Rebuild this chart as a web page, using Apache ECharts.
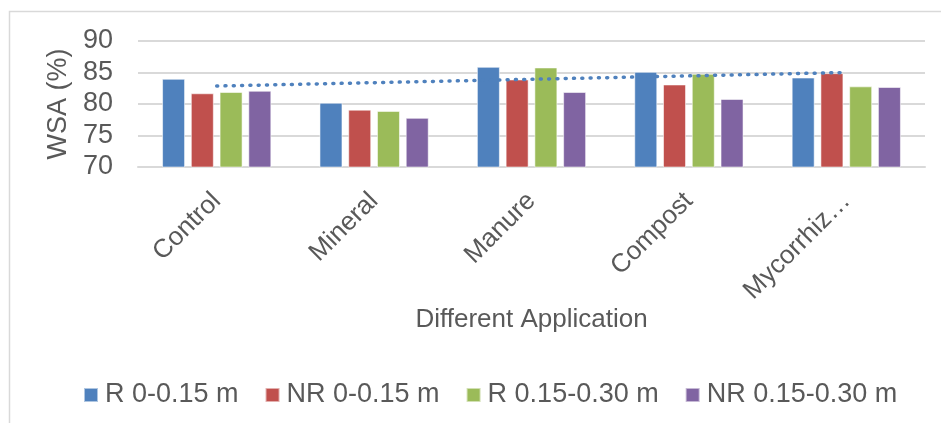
<!DOCTYPE html>
<html>
<head>
<meta charset="utf-8">
<script src="https://cdn.jsdelivr.net/npm/echarts@6/dist/echarts.min.js"></script>
<style>
html,body{margin:0;padding:0;background:#fff;}
#c{width:941px;height:423px;}
</style>
</head>
<body>
<div id="c"></div>
<script>
const categories = ['Control', 'Mineral', 'Manure', 'Compost', 'Mycorrhiz…'];
const seriesNames = ['R 0-0.15 m', 'NR 0-0.15 m', 'R 0.15-0.30 m', 'NR 0.15-0.30 m'];
const r015 = [84.0, 80.2, 85.9, 85.1, 84.2];
const nr015 = [81.7, 79.1, 83.9, 83.1, 84.9];
const r1530 = [81.9, 78.9, 85.8, 84.8, 82.8];
const nr1530 = [82.1, 77.8, 81.9, 80.8, 82.7];
const trendR015 = [82.85, null, null, null, 85.0];
const yTicks = { min: 70, max: 90, interval: 5 };
const colors = ['#4F81BD', '#C0504D', '#9BBB59', '#8064A2'];

const FONT = '"Liberation Sans", Arial, sans-serif';
const TXT = '#595959';
const chart = echarts.init(document.getElementById('c'), null, { renderer: 'canvas' });
const valueSets = [r015, nr015, r1530, nr1530];
const barSeries = valueSets.map((vals, i) => ({
  name: seriesNames[i],
  type: 'bar',
  data: vals,
  barWidth: 23,
  barGap: '25%',
  itemStyle: { color: colors[i], borderColor: 'rgba(255,255,255,0.55)', borderWidth: 1 }
}));
chart.setOption({
  backgroundColor: '#fff',
  animation: false,
  graphic: [{
    type: 'rect', shape: { x: 9.5, y: 11.5, width: 1000, height: 500 },
    style: { fill: 'none', stroke: '#D9D9D9', lineWidth: 1.5 }, silent: true, z: -1
  }],
  grid: { left: 138, right: 16, top: 41, bottom: 256, containLabel: false },
  legend: {
    data: seriesNames,
    left: 78, top: 376,
    itemWidth: 14, itemHeight: 14, itemGap: 26,
    icon: 'rect',
    textStyle: { fontFamily: FONT, fontSize: 27, color: TXT, lineHeight: 28, padding: [0, 0, 0, 2] }
  },
  xAxis: {
    type: 'category',
    data: categories,
    name: 'Different Application',
    nameLocation: 'middle',
    nameGap: 139,
    nameTextStyle: { fontFamily: FONT, fontSize: 26, color: TXT },
    axisLine: { lineStyle: { color: '#D9D9D9', width: 2 } },
    axisTick: { show: false },
    axisLabel: { rotate: 45, margin: 30, fontFamily: FONT, fontSize: 26, color: TXT, interval: 0 }
  },
  yAxis: {
    type: 'value',
    min: yTicks.min, max: yTicks.max, interval: yTicks.interval,
    name: 'WSA (%)',
    nameLocation: 'middle',
    nameGap: 57,
    nameTextStyle: { fontFamily: FONT, fontSize: 27, color: TXT },
    axisLine: { show: false },
    axisTick: { show: false },
    axisLabel: { margin: 25, fontFamily: FONT, fontSize: 27, color: TXT },
    splitLine: { lineStyle: { color: '#D9D9D9', width: 2 } }
  },
  series: barSeries.concat([{
    name: 'trend',
    type: 'line',
    data: trendR015,
    connectNulls: true,
    symbol: 'none',
    z: 5,
    lineStyle: { color: '#4F81BD', width: 3.5, type: [1, 7.3], cap: 'round' }
  }])
});
</script>
</body>
</html>
